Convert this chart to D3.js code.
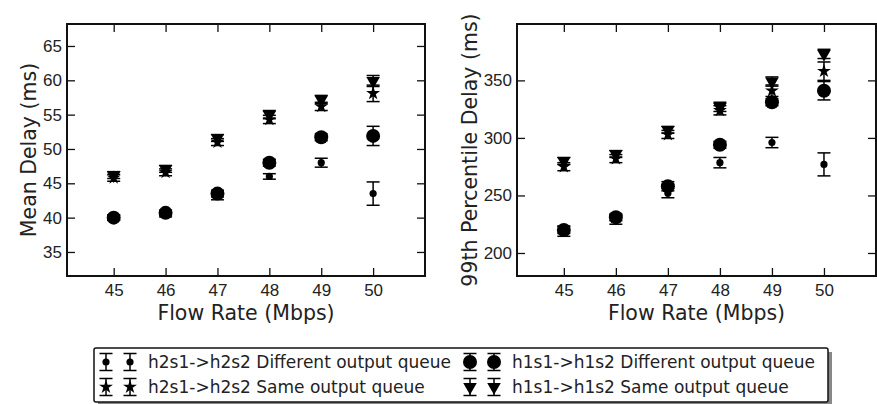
<!DOCTYPE html>
<html>
<head>
<meta charset="utf-8">
<script src="https://d3js.org/d3.v7.min.js"></script>
<style>
body { margin: 0; background: #fff; }
svg { font-family: "DejaVu Sans", sans-serif; }
.tick text { font-size: 17px; fill: #222; }
.tick line { stroke: #111; stroke-width: 1.3; }
.lbl { font-size: 20.5px; fill: #222; }
.leg { font-size: 17px; fill: #222; }
</style>
</head>
<body>
<svg width="877" height="404"></svg>
<script>
// flow rates (x)
var rates = [45, 46, 47, 48, 49, 50];

// mean delay (ms)
var meanH2Diff    = [40.0, 40.5, 43.2, 46.0, 48.0, 43.5];
var meanH2DiffErr = [0.4, 0.4, 0.6, 0.4, 0.65, 1.7];
var meanH2Same    = [45.8, 46.6, 51.0, 54.3, 56.2, 58.1];
var meanH2SameErr = [0.5, 0.5, 0.5, 0.6, 0.6, 1.2];
var meanH1Diff    = [40.0, 40.7, 43.5, 48.0, 51.7, 51.9];
var meanH1DiffErr = [0.4, 0.4, 0.5, 0.5, 0.5, 1.4];
var meanH1Same    = [46.2, 47.1, 51.6, 55.0, 57.2, 59.9];
var meanH1SameErr = [0.5, 0.5, 0.5, 0.6, 0.6, 0.8];

// 99th percentile delay (ms)
var p99H2Diff    = [219, 229, 252, 278.5, 296, 277];
var p99H2DiffErr = [4.5, 4, 4, 4.5, 4.5, 10];
var p99H2Same    = [275, 282, 303, 324, 341, 358];
var p99H2SameErr = [3.5, 3.5, 3.5, 4, 5, 8];
var p99H1Diff    = [220, 231, 258, 294, 331, 341];
var p99H1DiffErr = [3, 3, 4, 3, 3, 8];
var p99H1Same    = [280, 286, 307, 327, 349, 373];
var p99H1SameErr = [3, 3, 3, 4, 4, 4];

var meanTicks = [35, 40, 45, 50, 55, 60, 65];
var p99Ticks = [200, 250, 300, 350];

var seriesNames = [
  "h2s1->h2s2 Different output queue",
  "h2s1->h2s2 Same output queue",
  "h1s1->h1s2 Different output queue",
  "h1s1->h1s2 Same output queue"
];
var markerKinds = ["dot", "star", "circle", "tri"];

var svg = d3.select("svg");

function marker(sel, kind) {
  if (kind == "dot") {
    sel.append("circle").attr("r", 3.6).attr("fill", "#000");
  } else if (kind == "circle") {
    sel.append("circle").attr("r", 7).attr("fill", "#000");
  } else if (kind == "star") {
    sel.append("path").attr("d", d3.symbol(d3.symbolStar, 60)()).attr("fill", "#000");
  } else {
    sel.append("path").attr("d", d3.symbol(d3.symbolTriangle, 80)())
      .attr("transform", "rotate(180)").attr("fill", "#000");
  }
}

function errBar(g, x, y0, y1) {
  g.append("line").attr("x1", x).attr("x2", x).attr("y1", y0).attr("y2", y1)
    .attr("stroke", "#000").attr("stroke-width", 1.5);
  [y0, y1].forEach(function(yy) {
    g.append("line").attr("x1", x - 6.5).attr("x2", x + 6.5).attr("y1", yy).attr("y2", yy)
      .attr("stroke", "#000").attr("stroke-width", 1.5);
  });
}

function panel(left, right, yDomain, ticks, values, errs, ylabel, ylabelX) {
  var top = 24, bottom = 276;
  var x = d3.scaleLinear().domain([44.1, 51]).range([left, right]);
  var y = d3.scaleLinear().domain(yDomain).range([bottom, top]);
  var g = svg.append("g");

  g.append("g").attr("transform", "translate(0," + bottom + ")")
    .call(d3.axisBottom(x).tickValues(rates).tickSize(-8).tickPadding(8).tickFormat(d3.format("d")));
  g.append("g").attr("transform", "translate(0," + top + ")")
    .call(d3.axisTop(x).tickValues(rates).tickSize(-8).tickFormat(""));
  g.append("g").attr("transform", "translate(" + left + ",0)")
    .call(d3.axisLeft(y).tickValues(ticks).tickSize(-8).tickPadding(5));
  g.append("g").attr("transform", "translate(" + right + ",0)")
    .call(d3.axisRight(y).tickValues(ticks).tickSize(-8).tickFormat(""));
  g.selectAll(".domain").remove();

  var clip = "clip" + left;
  g.append("clipPath").attr("id", clip).append("rect")
    .attr("x", left).attr("y", top).attr("width", right - left).attr("height", bottom - top);
  var pts = g.append("g").attr("clip-path", "url(#" + clip + ")");

  values.forEach(function(vals, s) {
    var sg = pts.append("g");
    rates.forEach(function(r, i) {
      errBar(sg, x(r), y(vals[i] + errs[s][i]), y(vals[i] - errs[s][i]));
    });
    rates.forEach(function(r, i) {
      marker(sg.append("g").attr("transform", "translate(" + x(r) + "," + y(vals[i]) + ")"), markerKinds[s]);
    });
  });

  g.append("rect").attr("x", left).attr("y", top).attr("width", right - left).attr("height", bottom - top)
    .attr("fill", "none").attr("stroke", "#111").attr("stroke-width", 2);

  g.append("text").attr("class", "lbl").attr("text-anchor", "middle")
    .attr("x", (left + right) / 2).attr("y", 320).text("Flow Rate (Mbps)");
  g.append("text").attr("class", "lbl").attr("text-anchor", "middle")
    .attr("transform", "translate(" + ylabelX + "," + (top + bottom) / 2 + ") rotate(-90)")
    .text(ylabel);
}

panel(67, 425, [31.5, 68.2], meanTicks,
  [meanH2Diff, meanH2Same, meanH1Diff, meanH1Same],
  [meanH2DiffErr, meanH2SameErr, meanH1DiffErr, meanH1SameErr],
  "Mean Delay (ms)", 36);
panel(517, 876, [180, 399], p99Ticks,
  [p99H2Diff, p99H2Same, p99H1Diff, p99H1Same],
  [p99H2DiffErr, p99H2SameErr, p99H1DiffErr, p99H1SameErr],
  "99th Percentile Delay (ms)", 477);

// legend
var lg = svg.append("g");
lg.append("rect").attr("x", 98).attr("y", 352).attr("width", 734).attr("height", 54).attr("fill", "#888");
lg.append("rect").attr("x", 94).attr("y", 348).attr("width", 734).attr("height", 54)
  .attr("fill", "#fff").attr("stroke", "#111").attr("stroke-width", 1.5).attr("rx", 2);
var legPos = [[106, 362], [106, 387], [470, 362], [470, 387]];
seriesNames.forEach(function(name, s) {
  var px = legPos[s][0], py = legPos[s][1];
  [px, px + 24].forEach(function(mx) {
    errBar(lg, mx, py - 8.5, py + 8.5);
    marker(lg.append("g").attr("transform", "translate(" + mx + "," + py + ")"), markerKinds[s]);
  });
  lg.append("text").attr("class", "leg").attr("x", px + 42).attr("y", py + 6).text(name);
});
</script>
</body>
</html>
